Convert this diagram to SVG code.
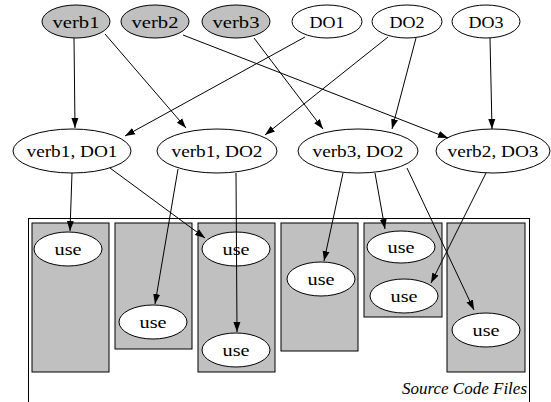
<svg xmlns="http://www.w3.org/2000/svg" width="551" height="402" viewBox="0 0 551 402">
<style>
.n{fill:#fff;stroke:#000;stroke-width:1}
.g{fill:#c0c0c0;stroke:#000;stroke-width:1}
.c{fill:#c0c0c0;stroke:#000;stroke-width:1}
text{font-family:'Liberation Serif','Times New Roman',serif;font-size:16.5px;text-anchor:middle;fill:#000}
.e{fill:none;stroke:#000;stroke-width:1;marker-end:url(#a)}
</style>
<defs>
<marker id="a" markerUnits="userSpaceOnUse" markerWidth="10" markerHeight="8" refX="10" refY="4" orient="auto">
<path d="M0,0.5 L10,4 L0,7.5 Z" fill="#000"/>
</marker>
</defs>
<rect x="28.5" y="218.5" width="501" height="200" fill="#fff" stroke="#000"/>
<g id="file1"><rect class="c" x="32" y="223" width="77" height="149"/></g>
<g id="file2"><rect class="c" x="115" y="223" width="77" height="126"/></g>
<g id="file3"><rect class="c" x="198" y="223" width="77" height="149"/></g>
<g id="file4"><rect class="c" x="281" y="223" width="77" height="128"/></g>
<g id="file5"><rect class="c" x="364" y="223" width="78" height="94"/></g>
<g id="file6"><rect class="c" x="447" y="223" width="78" height="149"/></g>
<text x="527" y="394" style="font-style:italic;text-anchor:end" textLength="125" lengthAdjust="spacingAndGlyphs">Source Code Files</text>

<g id="verb1"><ellipse class="g" cx="76" cy="21.5" rx="34" ry="16.5"/><text x="76" y="27.5" textLength="47" lengthAdjust="spacingAndGlyphs">verb1</text></g>
<g id="verb2"><ellipse class="g" cx="155" cy="21.5" rx="34" ry="16.5"/><text x="155" y="27.5" textLength="47" lengthAdjust="spacingAndGlyphs">verb2</text></g>
<g id="verb3"><ellipse class="g" cx="236" cy="21.5" rx="34" ry="16.5"/><text x="236" y="27.5" textLength="47" lengthAdjust="spacingAndGlyphs">verb3</text></g>
<g id="DO1"><ellipse class="n" cx="327" cy="21.5" rx="35" ry="16.5"/><text x="327" y="27.5" textLength="35" lengthAdjust="spacingAndGlyphs">DO1</text></g>
<g id="DO2"><ellipse class="n" cx="407" cy="21.5" rx="35" ry="16.5"/><text x="407" y="27.5" textLength="35" lengthAdjust="spacingAndGlyphs">DO2</text></g>
<g id="DO3"><ellipse class="n" cx="486" cy="21.5" rx="34" ry="16.5"/><text x="486" y="27.5" textLength="35" lengthAdjust="spacingAndGlyphs">DO3</text></g>

<g id="verb1_DO1"><ellipse class="n" cx="72" cy="151" rx="59" ry="22"/><text x="72" y="157" textLength="91" lengthAdjust="spacingAndGlyphs">verb1, DO1</text></g>
<g id="verb1_DO2"><ellipse class="n" cx="217" cy="151" rx="60" ry="22"/><text x="217" y="157" textLength="91" lengthAdjust="spacingAndGlyphs">verb1, DO2</text></g>
<g id="verb3_DO2"><ellipse class="n" cx="358" cy="151" rx="60" ry="22"/><text x="358" y="157" textLength="91" lengthAdjust="spacingAndGlyphs">verb3, DO2</text></g>
<g id="verb2_DO3"><ellipse class="n" cx="493" cy="151" rx="57" ry="22"/><text x="493" y="157" textLength="91" lengthAdjust="spacingAndGlyphs">verb2, DO3</text></g>

<g id="use1"><ellipse class="n" cx="68" cy="249" rx="34" ry="17"/><text x="68" y="255" textLength="27" lengthAdjust="spacingAndGlyphs">use</text></g>
<g id="use2"><ellipse class="n" cx="153" cy="322" rx="34" ry="17"/><text x="153" y="328" textLength="27" lengthAdjust="spacingAndGlyphs">use</text></g>
<g id="use3"><ellipse class="n" cx="236" cy="249" rx="34" ry="17"/><text x="236" y="255" textLength="27" lengthAdjust="spacingAndGlyphs">use</text></g>
<g id="use4"><ellipse class="n" cx="236" cy="350" rx="34" ry="17"/><text x="236" y="356" textLength="27" lengthAdjust="spacingAndGlyphs">use</text></g>
<g id="use5"><ellipse class="n" cx="321" cy="279" rx="34" ry="17"/><text x="321" y="285" textLength="27" lengthAdjust="spacingAndGlyphs">use</text></g>
<g id="use6"><ellipse class="n" cx="401" cy="247" rx="34" ry="16"/><text x="401" y="253" textLength="27" lengthAdjust="spacingAndGlyphs">use</text></g>
<g id="use7"><ellipse class="n" cx="404" cy="296" rx="34" ry="17"/><text x="404" y="302" textLength="27" lengthAdjust="spacingAndGlyphs">use</text></g>
<g id="use8"><ellipse class="n" cx="486" cy="330" rx="34" ry="17"/><text x="486" y="336" textLength="27" lengthAdjust="spacingAndGlyphs">use</text></g>

<g id="edges">
<path class="e" d="M74,38 L75,128"/>
<path class="e" d="M105,34 L186,128"/>
<path class="e" d="M183,35 L448,138"/>
<path class="e" d="M254,38 L323,129"/>
<path class="e" d="M305,37 L125,136"/>
<path class="e" d="M388,37 L265,135"/>
<path class="e" d="M416,38 L392,129"/>
<path class="e" d="M490,38 L492,129"/>
<path class="e" d="M72,173 L70,231"/>
<path class="e" d="M110,168 L205,238"/>
<path class="e" d="M178,169 L155,304"/>
<path class="e" d="M236,173 L237,332"/>
<path class="e" d="M343,173 L324,261"/>
<path class="e" d="M375,173 L385,229"/>
<path class="e" d="M407,168 L474,310"/>
<path class="e" d="M486,173 L431,283"/>
</g>
</svg>
